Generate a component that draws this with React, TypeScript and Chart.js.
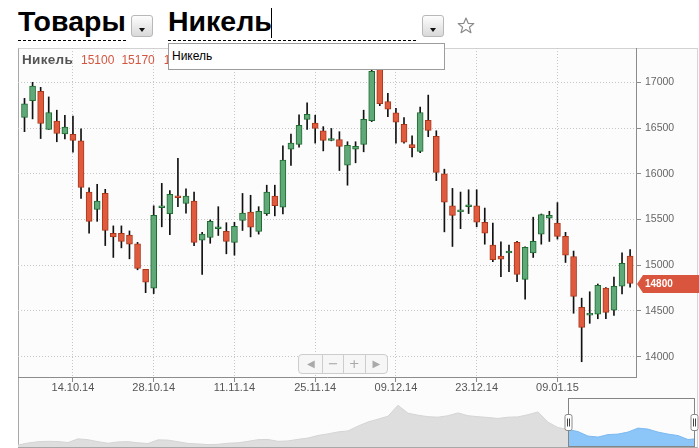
import { useEffect, useRef } from 'react';
import { Chart, registerables } from 'chart.js';

Chart.register(...registerables);

// Trading days shown in the main panel
const dates = [
  '06.10.14', '07.10.14', '08.10.14', '09.10.14', '10.10.14', '13.10.14', '14.10.14', '15.10.14', '16.10.14', '17.10.14',
  '20.10.14', '21.10.14', '22.10.14', '23.10.14', '24.10.14', '27.10.14', '28.10.14', '29.10.14', '30.10.14', '31.10.14',
  '03.11.14', '04.11.14', '05.11.14', '06.11.14', '07.11.14', '10.11.14', '11.11.14', '12.11.14', '13.11.14', '14.11.14',
  '17.11.14', '18.11.14', '19.11.14', '20.11.14', '21.11.14', '24.11.14', '25.11.14', '26.11.14', '27.11.14', '28.11.14',
  '01.12.14', '02.12.14', '03.12.14', '04.12.14', '05.12.14', '08.12.14', '09.12.14', '10.12.14', '11.12.14', '12.12.14',
  '15.12.14', '16.12.14', '17.12.14', '18.12.14', '19.12.14', '22.12.14', '23.12.14', '24.12.14', '29.12.14', '30.12.14',
  '31.12.14', '02.01.15', '05.01.15', '06.01.15', '07.01.15', '08.01.15', '09.01.15', '12.01.15', '13.01.15', '14.01.15',
  '15.01.15', '16.01.15', '19.01.15', '20.01.15', '21.01.15', '22.01.15',
];

const open = [
  16615, 16800, 16900, 16485, 16575, 16435, 16430, 16360, 15800, 15610,
  15785, 15350, 15350, 15330, 15235, 14955, 14750, 15630, 15565, 15760,
  15675, 15700, 15275, 15305, 15400, 15370, 15250, 15490, 15580, 15370,
  15565, 15755, 15635, 16270, 16320, 16595, 16555, 16470, 16365, 16375,
  16095, 16270, 16320, 16580, 17180, 16790, 16665, 16540, 16320, 16245,
  16585, 16410, 16000, 15650, 15585, 15640, 15650, 15470, 15220, 15100,
  15135, 15250, 14845, 15135, 15340, 15515, 15460, 15315, 15095, 14540,
  14455, 14465, 14750, 14510, 14770, 15100,
];
const high = [
  16825, 17000, 16945, 16840, 16695, 16640, 16630, 16490, 15845, 15885,
  15830, 15430, 15430, 15375, 15250, 14955, 15650, 15895, 15815, 16170,
  15835, 15800, 15360, 15495, 15640, 15465, 15470, 15785, 15765, 15640,
  15875, 15875, 16305, 16435, 16645, 16775, 16640, 16515, 16495, 16460,
  16350, 16350, 16695, 17160, 17260, 16880, 16715, 16615, 16415, 16730,
  16860, 16470, 16050, 15840, 15800, 15825, 15825, 15625, 15460, 15255,
  15220, 15260, 15200, 15525, 15560, 15590, 15685, 15360, 15155, 14640,
  14710, 14795, 14755, 14870, 15135, 15170,
];
const low = [
  16460, 16600, 16385, 16485, 16350, 16380, 16235, 15730, 15350, 15480,
  15215, 15085, 15190, 15070, 14950, 14700, 14690, 15420, 15335, 15640,
  15570, 15215, 14900, 15240, 15325, 15125, 15110, 15380, 15310, 15340,
  15545, 15540, 15560, 16090, 16290, 16485, 16335, 16250, 16360, 16035,
  15875, 16120, 16240, 16570, 16745, 16625, 16335, 16335, 16185, 16230,
  16405, 15925, 15365, 15205, 15400, 15565, 15420, 15230, 15040, 14875,
  14930, 14820, 14630, 15085, 15230, 15260, 15285, 15030, 14475, 13945,
  14365, 14415, 14415, 14450, 14685, 14760,
];
const close = [
  16765, 16960, 16550, 16670, 16440, 16510, 16365, 15850, 15480, 15700,
  15380, 15310, 15260, 15230, 14965, 14815, 15545, 15650, 15775, 15740,
  15755, 15250, 15340, 15480, 15420, 15260, 15425, 15570, 15415, 15590,
  15800, 15650, 16150, 16335, 16530, 16650, 16495, 16365, 16385, 16300,
  16310, 16300, 16595, 17120, 16765, 16705, 16565, 16345, 16285, 16670,
  16475, 16015, 15690, 15545, 15605, 15660, 15470, 15350, 15060, 15065,
  15155, 14900, 15195, 15260, 15555, 15545, 15315, 15110, 14660, 14320,
  14475, 14780, 14485, 14770, 15020, 14800,
];

const dateTicks = ['14.10.14', '28.10.14', '11.11.14', '25.11.14', '09.12.14', '23.12.14', '09.01.15'];
const priceTicks = [14000, 14500, 15000, 15500, 16000, 16500, 17000];

// Longer history for the navigator strip
const navHistory = [
  2000, 4000, 5300, 5700, 5500, 4500, 8200, 7300, 5400, 3800,
  5100, 5400, 4200, 3500, 7200, 6900, 5300, 3600, 3100, 2400,
  2700, 3800, 4200, 5700, 7400, 7600, 5700, 6100, 7700, 9000,
  11600, 13200, 15200, 16200, 21000, 25200, 28000, 31000, 42000, 34000,
  32000, 30500, 30000, 31500, 34300, 31500, 30500, 29700, 28700, 30000,
  30300, 32500, 35300, 25000, 19500, 17700, 15500, 11000, 10000, 12500,
  13000, 15000, 19000, 18000, 15000, 13000, 11500, 7500, 8500,
];
const navWindowStart = 55;

const FONT = '"Liberation Sans", Arial, Helvetica, sans-serif';
const UP_FILL = '#5fa878';
const UP_LINE = '#1f6b30';
const DOWN_FILL = '#e05a3e';
const DOWN_LINE = '#a8381c';
const AXIS = '#8c8c8c';
const GRID = '#c6c6c6';

const lastIdx = close.length - 1;

const lastPriceTag = {
  id: 'lastPriceTag',
  afterDraw(chart: any) {
    const { ctx, chartArea, scales } = chart;
    const last = close[lastIdx];
    const y = Math.round(scales.y.getPixelForValue(last));
    const x0 = chartArea.right + 1;
    ctx.save();
    ctx.fillStyle = '#d9553d';
    ctx.beginPath();
    ctx.moveTo(x0, y);
    ctx.lineTo(x0 + 6, y - 9);
    ctx.lineTo(chart.width, y - 9);
    ctx.lineTo(chart.width, y + 9);
    ctx.lineTo(x0 + 6, y + 9);
    ctx.closePath();
    ctx.fill();
    ctx.fillStyle = '#ffffff';
    ctx.font = `bold 10px ${FONT}`;
    ctx.textBaseline = 'middle';
    ctx.fillText(String(last), x0 + 8, y + 0.5);
    ctx.restore();
  },
};

const navWindow = {
  id: 'navWindow',
  afterDatasetsDraw(chart: any) {
    const { ctx, chartArea: a, scales } = chart;
    const x1 = Math.round(scales.x.getPixelForValue(navWindowStart)) + 0.5;
    const x2 = Math.round(a.right) - 0.5;
    const top = Math.round(a.top) + 0.5;
    const bottom = Math.round(a.bottom) - 0.5;
    ctx.save();
    ctx.strokeStyle = '#858585';
    ctx.lineWidth = 1;
    ctx.strokeRect(x1, top, x2 - x1, bottom - top);
    for (const hx of [x1, x2]) {
      const hy = top + 16;
      ctx.beginPath();
      ctx.roundRect(hx - 3.5, hy, 7, 16, 2);
      ctx.fillStyle = '#ffffff';
      ctx.fill();
      ctx.strokeStyle = '#8a8a8a';
      ctx.stroke();
      ctx.strokeStyle = '#444444';
      ctx.beginPath();
      ctx.moveTo(hx - 1, hy + 4);
      ctx.lineTo(hx - 1, hy + 12);
      ctx.moveTo(hx + 1, hy + 4);
      ctx.lineTo(hx + 1, hy + 12);
      ctx.stroke();
    }
    ctx.restore();
  },
};

function PriceChart() {
  const ref = useRef<HTMLCanvasElement | null>(null);
  useEffect(() => {
    if (!ref.current) return;
    const idx = dates.map((_, i) => i);
    const up = idx.map((i) => close[i] >= open[i]);
    const chart = new Chart(ref.current, {
      type: 'bar',
      data: {
        datasets: [
          {
            label: 'body',
            data: idx.map((i) => ({ x: i, y: [open[i], close[i]] })) as any,
            backgroundColor: up.map((u) => (u ? UP_FILL : DOWN_FILL)),
            borderColor: up.map((u) => (u ? UP_LINE : DOWN_LINE)),
            borderWidth: 1,
            borderSkipped: false,
            barThickness: 6,
            grouped: false,
            order: 0,
          },
          {
            label: 'wick',
            data: idx.map((i) => ({ x: i, y: [low[i], high[i]] })) as any,
            backgroundColor: '#111111',
            borderWidth: 0,
            barThickness: 1,
            grouped: false,
            order: 1,
          },
        ],
      },
      options: {
        animation: false,
        responsive: false,
        events: [],
        layout: { padding: { left: 18, top: 48, right: 2, bottom: 0 } },
        plugins: { legend: { display: false }, tooltip: { enabled: false } },
        scales: {
          x: {
            type: 'linear',
            min: -0.805,
            max: 75.73,
            offset: false,
            grid: {
              offset: false,
              color: GRID,
              tickColor: AXIS,
              tickLength: 5,
              tickBorderDash: [],
            } as any,
            border: { display: true, color: AXIS, width: 1, dash: [1, 2] },
            afterBuildTicks: (s: any) => {
              s.ticks = dateTicks.map((d) => ({ value: dates.indexOf(d) }));
            },
            afterFit: (s: any) => {
              s.height = 21;
            },
            ticks: {
              autoSkip: false,
              maxRotation: 0,
              padding: -1,
              color: '#555555',
              font: { family: FONT, size: 11 },
              callback: (v: any) => dates[Number(v)] ?? '',
            },
          },
          y: {
            position: 'right',
            min: 13778,
            max: 17375,
            grid: {
              color: GRID,
              tickColor: AXIS,
              tickLength: 5,
              tickBorderDash: [],
            } as any,
            border: { display: true, color: AXIS, width: 1, dash: [1, 2] },
            afterBuildTicks: (s: any) => {
              s.ticks = priceTicks.map((v) => ({ value: v }));
            },
            afterFit: (s: any) => {
              s.width = 61;
            },
            ticks: {
              padding: 4,
              color: '#666666',
              font: { family: FONT, size: 10.5 },
              callback: (v: any) => String(v),
            },
          },
        },
      },
      plugins: [lastPriceTag],
    });
    return () => chart.destroy();
  }, []);
  return (
    <canvas
      ref={ref}
      width={699}
      height={398}
      style={{ position: 'absolute', left: 0, top: 0, width: 699, height: 398 }}
    />
  );
}

function Navigator() {
  const ref = useRef<HTMLCanvasElement | null>(null);
  useEffect(() => {
    if (!ref.current) return;
    const past = navHistory.slice(0, navWindowStart + 1).map((v, i) => ({ x: i, y: v }));
    const recent = navHistory.slice(navWindowStart).map((v, i) => ({ x: i + navWindowStart, y: v }));
    const chart = new Chart(ref.current, {
      type: 'line',
      data: {
        datasets: [
          {
            data: past,
            borderColor: '#d4d4d4',
            backgroundColor: '#dedede',
            borderWidth: 1,
            pointRadius: 0,
            fill: 'origin',
            tension: 0,
          },
          {
            data: recent,
            borderColor: '#7db9f0',
            backgroundColor: '#8cc5f8',
            borderWidth: 1,
            pointRadius: 0,
            fill: 'origin',
            tension: 0,
          },
        ],
      },
      options: {
        animation: false,
        responsive: false,
        events: [],
        layout: { padding: { left: 18, right: 4, top: 8, bottom: 1 } },
        plugins: { legend: { display: false }, tooltip: { enabled: false } },
        scales: {
          x: { type: 'linear', min: 0, max: 67.7, display: false },
          y: { min: 0, max: 49300, display: false },
        },
      },
      plugins: [navWindow],
    });
    return () => chart.destroy();
  }, []);
  return (
    <canvas
      ref={ref}
      width={699}
      height={58}
      style={{ position: 'absolute', left: 0, top: 390, width: 699, height: 58 }}
    />
  );
}

function DropButton({ left }: { left: number }) {
  return (
    <div
      style={{
        position: 'absolute',
        left,
        top: 15,
        width: 22,
        height: 22,
        boxSizing: 'border-box',
        border: '1px solid #b8b8b8',
        borderRadius: 3,
        background: 'linear-gradient(#fdfdfd, #d9d9d9)',
      }}
    >
      <div
        style={{
          position: 'absolute',
          left: 7,
          top: 12,
          width: 0,
          height: 0,
          borderLeft: '3px solid transparent',
          borderRight: '3px solid transparent',
          borderTop: '4px solid #111',
        }}
      />
    </div>
  );
}

const dashed = (left: number, width: number) => (
  <div
    style={{
      position: 'absolute',
      left,
      top: 40,
      width,
      height: 1,
      background: 'repeating-linear-gradient(to right, #000 0 3px, transparent 3px 5px)',
    }}
  />
);

export default function App() {
  const panGlyphs = [
    { g: '◀', w: 24, s: 10 },
    { g: '−', w: 21, s: 13 },
    { g: '+', w: 22, s: 13 },
    { g: '▶', w: 23, s: 10 },
  ];
  return (
    <div
      style={{
        position: 'absolute',
        left: 0,
        top: 0,
        width: 699,
        height: 448,
        overflow: 'hidden',
        background: '#ffffff',
        fontFamily: FONT,
      }}
    >
      <div style={{ position: 'absolute', left: 18, top: 7, fontSize: 28.5, fontWeight: 'bold', lineHeight: '28px', color: '#000' }}>
        Товары
      </div>
      <DropButton left={131} />
      <div style={{ position: 'absolute', left: 168, top: 7, fontSize: 28.5, fontWeight: 'bold', lineHeight: '28px', color: '#000' }}>
        Никель
      </div>
      <div style={{ position: 'absolute', left: 271, top: 8, width: 1, height: 30, background: '#000' }} />
      <DropButton left={422} />
      <svg style={{ position: 'absolute', left: 457, top: 17 }} width={18} height={17} viewBox="0 0 18 17">
        <polygon
          points="9,1 11.2,6.3 16.8,6.6 12.4,10.2 13.9,15.7 9,12.6 4.1,15.7 5.6,10.2 1.2,6.6 6.8,6.3"
          fill="none"
          stroke="#8a8a8a"
          strokeWidth={1.2}
          strokeLinejoin="round"
        />
      </svg>
      {dashed(18, 108)}
      {dashed(168, 250)}

      <div
        style={{
          position: 'absolute',
          left: 18,
          top: 48,
          width: 680,
          height: 400,
          boxSizing: 'border-box',
          background: '#fcfcfc',
          borderTop: '1px solid #d2d2d2',
          borderLeft: '1px solid #a8a8a8',
          borderRight: '1px solid #d6d6d6',
          borderBottom: '1px solid #a8a8a8',
        }}
      />
      <Navigator />
      <PriceChart />

      <div style={{ position: 'absolute', left: 22, top: 53, fontSize: 12, lineHeight: '14px', whiteSpace: 'nowrap' }}>
        <span style={{ fontWeight: 'bold', color: '#555555', fontSize: 13.5, letterSpacing: 0.3 }}>Никель</span>
        <span style={{ color: '#d4553f', marginLeft: 8 }}>{open[lastIdx]}</span>
        <span style={{ color: '#d4553f', marginLeft: 7 }}>{high[lastIdx]}</span>
        <span style={{ color: '#d4553f', marginLeft: 9 }}>{low[lastIdx]}</span>
        <span style={{ color: '#d4553f', marginLeft: 7 }}>{close[lastIdx]}</span>
      </div>

      <div
        style={{
          position: 'absolute',
          left: 168,
          top: 43,
          width: 277,
          height: 27,
          boxSizing: 'border-box',
          border: '1px solid #9d9d9d',
          background: '#ffffff',
          fontSize: 12,
          lineHeight: '25px',
          paddingLeft: 3,
          color: '#000',
        }}
      >
        Никель
      </div>

      <div
        style={{
          position: 'absolute',
          left: 298,
          top: 354,
          width: 90,
          height: 20,
          boxSizing: 'border-box',
          border: '1px solid #cdcdcd',
          borderRadius: 4,
          background: '#f6f6f6',
          display: 'flex',
          overflow: 'hidden',
        }}
      >
        {panGlyphs.map((p, i) => (
          <div
            key={i}
            style={{
              width: p.w,
              boxSizing: 'border-box',
              borderLeft: i ? '1px solid #cdcdcd' : 'none',
              color: '#a9a9a9',
              fontSize: p.s,
              lineHeight: '18px',
              textAlign: 'center',
              fontFamily: '"DejaVu Sans", sans-serif',
            }}
          >
            {p.g}
          </div>
        ))}
      </div>
    </div>
  );
}
